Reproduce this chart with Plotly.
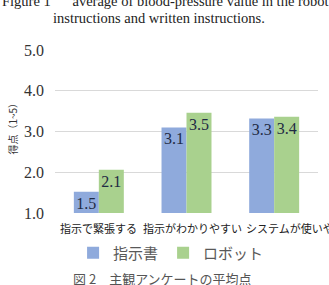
import plotly.graph_objects as go

categories = ["指示で緊張する", "指示がわかりやすい", "システムが使いやすい"]
written = [1.52, 3.10, 3.32]
robot = [2.06, 3.46, 3.36]
series_names = ["指示書", "ロボット"]
y_ticks = [1.0, 2.0, 3.0, 4.0, 5.0]

blue = "#8FAADC"
green = "#A9D18E"
serif = "Liberation Serif, DejaVu Serif, serif"
cjk = "Noto Sans CJK JP, sans-serif"

fig = go.Figure()
for name, vals, col in [(series_names[0], written, blue), (series_names[1], robot, green)]:
    fig.add_trace(go.Bar(
        x=categories, y=vals, name=name, marker=dict(color=col, line=dict(width=0)),
        text=[f"{v:.1f}" for v in vals], textposition="inside", insidetextanchor="end",
        constraintext="none",
        textfont=dict(family=serif, size=16, color="#1F2A44"), textangle=0,
        cliponaxis=False,
    ))

# category labels placed as text below the axis (Excel-like offsets)
label_shifts = [0, 6, 27]
cat_annotations = [
    dict(text=c, x=c, xref="x", y=0, yref="paper", yshift=-15, xshift=s,
         showarrow=False, xanchor="center", yanchor="middle",
         font=dict(family=cjk, size=11, color="#222222"))
    for c, s in zip(categories, label_shifts)
]

fig.update_layout(
    width=329, height=285, margin=dict(l=55, r=11, t=50, b=72, autoexpand=False),
    paper_bgcolor="white", plot_bgcolor="white",
    barmode="group", bargap=0.43, bargroupgap=0,
    showlegend=True,
    legend=dict(orientation="h", xref="container", yref="container",
                x=0.52, xanchor="center", y=1 - 253 / 285, yanchor="middle",
                font=dict(family=cjk, size=15, color="#595959"),
                tracegroupgap=0, itemsizing="constant"),
    xaxis=dict(showticklabels=False, showline=False, range=[-0.5, len(categories) - 0.5],
               autorange=False, ticks="", showgrid=False, automargin=False),
    yaxis=dict(range=[1, 5], tickvals=y_ticks, ticktext=[f"{t:.1f}" for t in y_ticks],
               tickfont=dict(family=serif, size=16, color="#333333"),
               showgrid=True, gridcolor="#D9D9D9", gridwidth=1, zeroline=False,
               showline=False, ticks="", ticklabelstandoff=10, automargin=False),
    annotations=cat_annotations + [
        dict(text="Figure 1      average of blood-pressure value in the robot", xref="paper", yref="paper",
             x=0.42, y=1.0, yshift=49, showarrow=False, xanchor="center", yanchor="middle",
             font=dict(family=serif, size=14.5, color="#222222")),
        dict(text="instructions and written instructions.", xref="paper", yref="paper",
             x=0.395, y=1.0, yshift=32, showarrow=False, xanchor="center", yanchor="middle",
             font=dict(family=serif, size=14.5, color="#222222")),
        dict(text="得点（1~5）", xref="paper", yref="paper", x=0, xshift=-42, y=0.53,
             textangle=-90, showarrow=False, xanchor="center", yanchor="middle",
             font=dict(family=cjk, size=10, color="#333333")),
        dict(text="図 2　主観アンケートの平均点", xref="paper", yref="paper", x=0.41, y=0,
             yshift=-65, showarrow=False, xanchor="center", yanchor="middle",
             font=dict(family=cjk, size=13, color="#555555")),
    ],
)

fig.write_html("out.html")
